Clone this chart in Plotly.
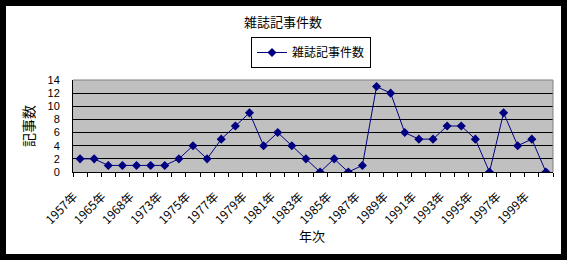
import plotly.graph_objects as go

years = ["1957年", "1962年", "1965年", "1967年", "1968年", "1971年", "1973年", "1974年",
         "1975年", "1976年", "1977年", "1978年", "1979年", "1980年", "1981年", "1982年",
         "1983年", "1984年", "1985年", "1986年", "1987年", "1988年", "1989年", "1990年",
         "1991年", "1992年", "1993年", "1994年", "1995年", "1996年", "1997年", "1998年",
         "1999年", "2000年"]
counts = [2, 2, 1, 1, 1, 1, 1, 2, 4, 2, 5, 7, 9, 4, 6, 4, 2, 0, 2, 0, 1, 13, 12, 6,
          5, 5, 7, 7, 5, 0, 9, 4, 5, 0]
series_name = "雑誌記事件数"
title_text = "雑誌記事件数"
x_title = "年次"
y_title = "記事数"

W, H = 567, 260
L, R, T, B = 73, 14, 80, 88
PW, PH = W - L - R, H - T - B

def px(x):
    return (x - L) / PW

def py(y):
    return (H - B - y) / PH

FONT = "Noto Sans CJK JP"
idx = list(range(len(years)))

fig = go.Figure()
fig.add_trace(go.Scatter(
    x=idx, y=counts, mode="lines+markers", name=series_name,
    line=dict(color="#000080", width=1),
    marker=dict(symbol="diamond", size=7, color="#000080"),
    showlegend=True,
))

fig.update_layout(
    width=W, height=H,
    margin=dict(l=L, r=R, t=T, b=B, pad=0),
    paper_bgcolor="white",
    plot_bgcolor="#C0C0C0",
    font=dict(family=FONT, size=12, color="black"),
    title=dict(text=title_text, x=px(283), xanchor="center", xref="paper",
               y=1 - 22 / H, yanchor="middle", font=dict(size=13)),
    legend=dict(x=px(251), y=py(37), xanchor="left", yanchor="top",
                bordercolor="black", borderwidth=1, bgcolor="white",
                font=dict(size=12), itemwidth=30, tracegroupgap=0),
    showlegend=True,
    xaxis=dict(
        range=[-0.5, len(years) - 0.5],
        tickmode="array", tickvals=idx[::2], ticktext=years[::2],
        tickangle=-45, ticks="", showgrid=False, zeroline=False,
        showline=True, linecolor="black", linewidth=1, mirror=False,
        tickfont=dict(size=12), ticklabelstandoff=12, ticklabelshift=-6,
        minor=dict(tick0=0.5, dtick=1, ticks="outside", ticklen=4,
                   tickcolor="black", tickwidth=1, showgrid=False),
    ),
    yaxis=dict(
        range=[0, 14], dtick=2, tick0=0, showgrid=True, gridcolor="black",
        gridwidth=1, zeroline=False, showline=True, linecolor="black",
        linewidth=1, ticks="", ticklabelstandoff=10,
        tickfont=dict(size=11, family="Liberation Sans"),
        title=dict(text=y_title, standoff=9, font=dict(size=14)),
    ),
    annotations=[
        dict(text=x_title, xref="paper", yref="paper", x=px(312), y=py(235),
             xanchor="center", yanchor="middle", showarrow=False,
             font=dict(size=13)),
    ],
    shapes=[
        dict(type="line", xref="paper", yref="paper", x0=0, x1=1, y0=1, y1=1,
             line=dict(color="#808080", width=1), layer="above"),
        dict(type="line", xref="paper", yref="paper", x0=1, x1=1, y0=0, y1=1,
             line=dict(color="#808080", width=1), layer="above"),
        dict(type="rect", xref="paper", yref="paper",
             x0=px(3), x1=px(564), y0=py(257), y1=py(3),
             line=dict(color="black", width=6), fillcolor="rgba(0,0,0,0)",
             layer="above"),
    ],
)

fig.write_html("out.html")
